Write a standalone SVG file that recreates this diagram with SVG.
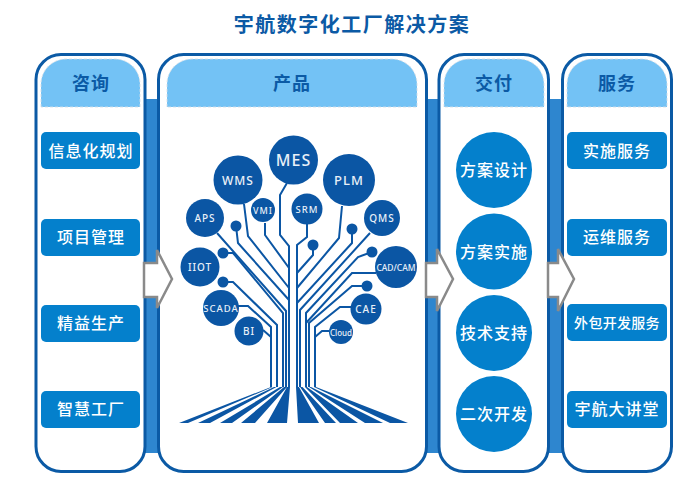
<svg xmlns="http://www.w3.org/2000/svg" width="700" height="490" viewBox="0 0 700 490">
<style>
text{font-family:"Noto Sans CJK SC","Noto Sans",sans-serif;text-anchor:middle;dominant-baseline:central}
.title{font-size:20px;font-weight:700;fill:#0b5aa5;letter-spacing:1.5px}
.panel{fill:#fff;stroke:#0b5aa5;stroke-width:3}
.head{fill:#73c2f5;stroke:#d6dde4;stroke-width:.8;stroke-dasharray:3 2}
.ht{font-size:18px;font-weight:700;fill:#0b5aa5;letter-spacing:1px}
.band{fill:#2e86cf}
.item{fill:#0480cc}
.it{font-size:16px;font-weight:500;fill:#fff;letter-spacing:1px}
.n{fill:#0b56a4}
.nt{font-family:"Noto Sans",sans-serif;fill:#e8f0f8;font-weight:500;letter-spacing:1px}
.c{fill:none;stroke:#0b56a4;stroke-width:2;stroke-linejoin:miter}
.a{fill:#fff;stroke:#8a8a8a;stroke-width:2.500}
.f{fill:#0b56a4}
</style>
<text class="title" x="352" y="23">宇航数字化工厂解决方案</text>
<g id="bands">
<rect class="band" x="145" y="99" width="14" height="354"/>
<rect class="band" x="426" y="99" width="14" height="354"/>
<rect class="band" x="548" y="99" width="15" height="354"/>
</g>
<g id="panel-consult">
<rect class="panel" x="36" y="54.500" width="109" height="417" rx="25"/>
<path class="head" d="M41 107V84a25 25 0 0 1 25-25h49a25 25 0 0 1 25 25v23z"/>
<text class="ht" x="91" y="82">咨询</text>
</g>
<g id="panel-product">
<rect class="panel" x="158.500" y="54.500" width="268" height="417" rx="25"/>
<path class="head" d="M167 107V84a25 25 0 0 1 25-25h200a25 25 0 0 1 25 25v23z"/>
<text class="ht" x="292" y="82">产品</text>
</g>
<g id="panel-delivery">
<rect class="panel" x="439" y="54.500" width="109.500" height="417" rx="25"/>
<path class="head" d="M444 107V84a25 25 0 0 1 25-25h50a25 25 0 0 1 25 25v23z"/>
<text class="ht" x="494" y="82">交付</text>
</g>
<g id="panel-service">
<rect class="panel" x="562.500" y="54.500" width="109" height="417" rx="25"/>
<path class="head" d="M567 107V84a25 25 0 0 1 25-25h50a25 25 0 0 1 25 25v23z"/>
<text class="ht" x="617" y="82">服务</text>
</g>
<g id="item-1"><rect class="item" x="41" y="132" width="99" height="37" rx="5"/><text class="it" x="91" y="149.500">信息化规划</text></g>
<g id="item-2"><rect class="item" x="41" y="219" width="99" height="37" rx="5"/><text class="it" x="91" y="236">项目管理</text></g>
<g id="item-3"><rect class="item" x="41" y="305" width="99" height="37" rx="5"/><text class="it" x="91" y="322">精益生产</text></g>
<g id="item-4"><rect class="item" x="41" y="391" width="99" height="37" rx="5"/><text class="it" x="91" y="408">智慧工厂</text></g>
<g id="svc-1"><rect class="item" x="567" y="132" width="100" height="37" rx="5"/><text class="it" x="617" y="149.500">实施服务</text></g>
<g id="svc-2"><rect class="item" x="567" y="219" width="100" height="37" rx="5"/><text class="it" x="617" y="236">运维服务</text></g>
<g id="svc-3"><rect class="item" x="567" y="304" width="100" height="37" rx="5"/><text class="it" x="617" y="322" style="font-size:14px;letter-spacing:.3px">外包开发服务</text></g>
<g id="svc-4"><rect class="item" x="567" y="391" width="100" height="37" rx="5"/><text class="it" x="617" y="408">宇航大讲堂</text></g>
<g id="del-1"><circle class="item" cx="494" cy="170" r="38"/><text class="it" x="494" y="169">方案设计</text></g>
<g id="del-2"><circle class="item" cx="494" cy="251.500" r="38"/><text class="it" x="494" y="251">方案实施</text></g>
<g id="del-3"><circle class="item" cx="494" cy="333" r="38"/><text class="it" x="494" y="332">技术支持</text></g>
<g id="del-4"><circle class="item" cx="494" cy="414" r="38"/><text class="it" x="494" y="413">二次开发</text></g>
<g id="connectors">
<path class="a" d="M144 263H157V250L172 279L157 308V297H144Z"/>
<path class="a" d="M426 263H437V249L453 279L437 311V297H426Z"/>
<path class="a" d="M548 263H558V249L574 279L558 311V297H548Z"/>
<path class="c" d="M263 330L271 337M238 306H248L271 327V387"/>
<path class="c" d="M223 282H233L277 325V387"/>
<path class="c" d="M223 253H233L283 313V387"/>
<path class="c" d="M217 233L286 311V387"/>
<path class="c" d="M236 226L238 243L289 300"/>
<path class="c" d="M244 204L248 236L289 288"/>
<path class="c" d="M265 223V235L289 268"/>
<path class="c" d="M287 183L280 195V235L289 246V387"/>
<path class="c" d="M307 224V237L297 245V387"/>
<path class="c" d="M313 245V255L297 273"/>
<path class="c" d="M342 206L339 238L297 288"/>
<path class="c" d="M352 229V243L297 303"/>
<path class="c" d="M370 233L300 310V387"/>
<path class="c" d="M372 252L358 257L306 313V387"/>
<path class="c" d="M376 273H352L306 323"/>
<path class="c" d="M367 286H352L309 323V387"/>
<path class="c" d="M351 307H340L315 327V387"/>
<path class="c" d="M329 331H322L315 337"/>
<path class="f" d="M271 387h1.500L188 423H179ZM274 387h2.500L210 423H198ZM280 387h3L232 423H220ZM284 387h3L255 423H241ZM287 387h3L287 423H267ZM296 387h3L319 423H298ZM300 387h2.500L336 423H325ZM305 387h2L358 423H340ZM309 387h2L383 423H365ZM314 387h2L408 423H390Z"/>
</g>
<g id="n-mes"><circle class="n" cx="293.500" cy="160" r="24.500"/><text class="nt" x="293.500" y="160" font-size="16">MES</text></g>
<g id="n-wms"><circle class="n" cx="238" cy="180" r="24.500"/><text class="nt" x="238" y="180" font-size="12">WMS</text></g>
<g id="n-vmi"><circle class="n" cx="263" cy="210" r="12"/><text class="nt" x="263" y="210" font-size="9">VMI</text></g>
<g id="n-aps"><circle class="n" cx="205" cy="218" r="19"/><text class="nt" x="205" y="218" font-size="10">APS</text></g>
<g id="n-iiot"><circle class="n" cx="200" cy="267" r="19.500"/><text class="nt" x="200" y="267" font-size="10">IIOT</text></g>
<g id="n-scada"><circle class="n" cx="221" cy="308" r="18"/><text class="nt" x="221" y="308" font-size="9.500">SCADA</text></g>
<g id="n-bi"><circle class="n" cx="249" cy="331" r="14.500"/><text class="nt" x="249" y="331" font-size="10">BI</text></g>
<g id="n-srm"><circle class="n" cx="307" cy="209" r="15.500"/><text class="nt" x="307" y="209" font-size="9.500">SRM</text></g>
<g id="n-plm"><circle class="n" cx="349" cy="180" r="26"/><text class="nt" x="349" y="180" font-size="13">PLM</text></g>
<g id="n-qms"><circle class="n" cx="382" cy="218" r="18"/><text class="nt" x="382" y="218" font-size="10">QMS</text></g>
<g id="n-cad"><circle class="n" cx="396" cy="267" r="21"/><text class="nt" x="396" y="267" font-size="8.500" style="letter-spacing:0">CAD/CAM</text></g>
<g id="n-cae"><circle class="n" cx="366" cy="309" r="15.500"/><text class="nt" x="366" y="309" font-size="10">CAE</text></g>
<g id="n-cloud"><circle class="n" cx="341" cy="332" r="12"/><text class="nt" x="341" y="332" font-size="8" style="letter-spacing:0">Cloud</text></g>
<g id="dots">
<circle class="n" cx="236" cy="226" r="5.500"/>
<circle class="n" cx="223" cy="253" r="5.500"/>
<circle class="n" cx="223" cy="282" r="5.500"/>
<circle class="n" cx="313" cy="245" r="5.500"/>
<circle class="n" cx="352" cy="229" r="5.500"/>
<circle class="n" cx="372" cy="252" r="5.500"/>
<circle class="n" cx="367" cy="286" r="5.500"/>
</g>
</svg>
